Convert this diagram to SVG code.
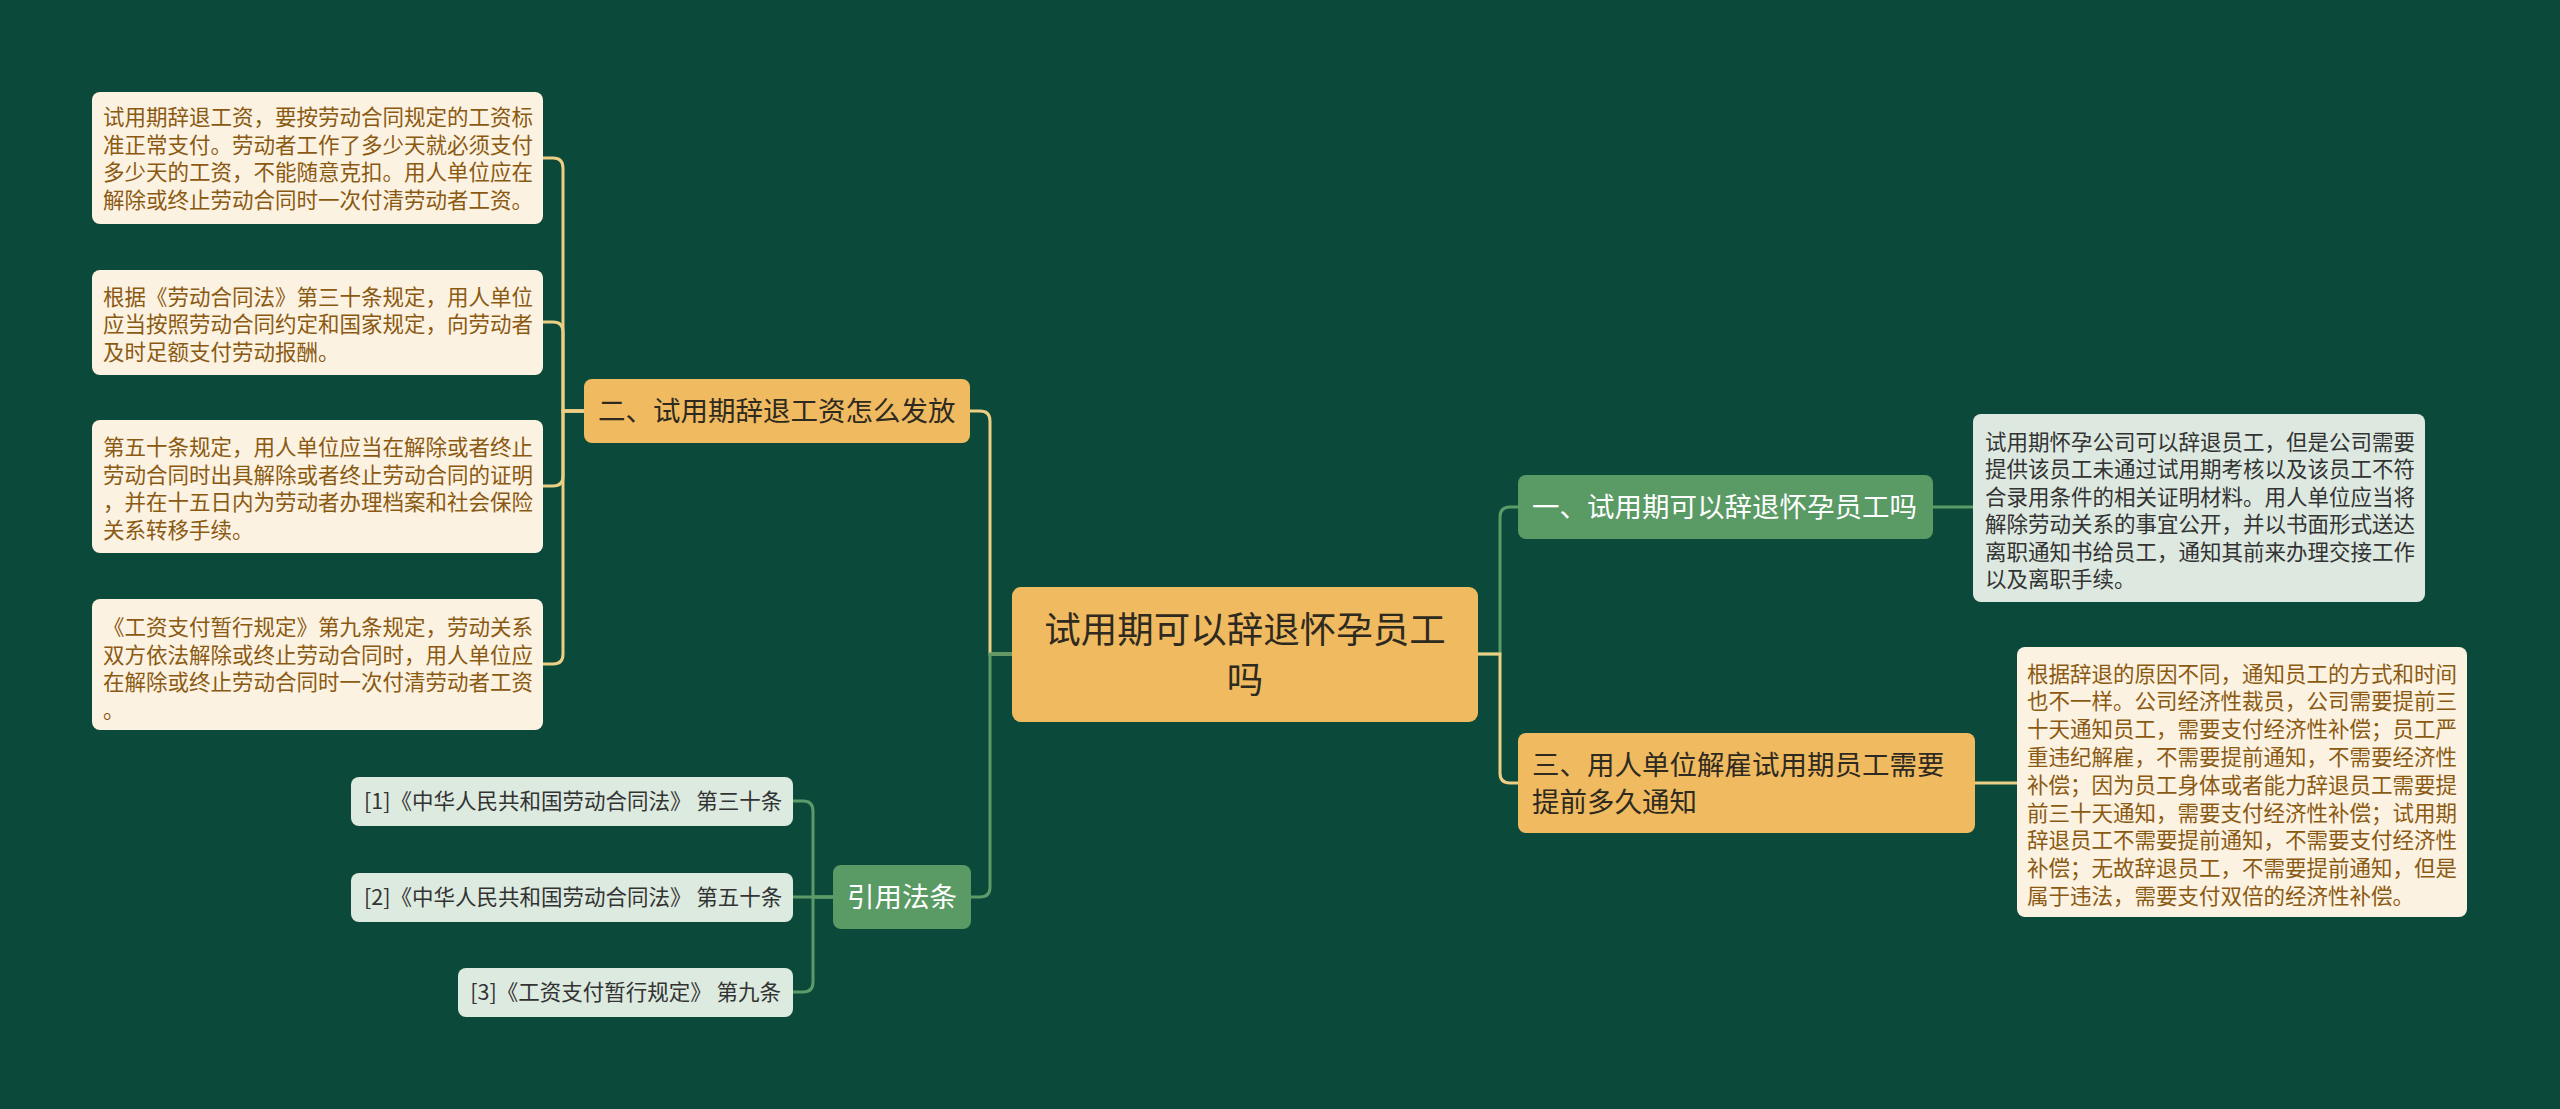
<svg xmlns="http://www.w3.org/2000/svg" width="2560" height="1109" viewBox="0 0 2560 1109">
<style>
.t{font-family:"Noto Sans CJK SC","Noto Sans",sans-serif}
.leaf{fill:#fcf2e2}
.leaft{font-size:21.5px;fill:#8b5a12}
.gleaf{fill:#dde9e0}
.gleaft{font-size:21.5px;fill:#333333}
.cite{fill:#ddeadf}
.citet{font-size:21.5px;fill:#333333}
.ynode{fill:#f0ba60}
.gnode{fill:#5a9a65}
.nt{font-size:27.5px;fill:#2e2a20}
.gnt{font-size:27.5px;fill:#ffffff}
.cy{fill:none;stroke:#eccf84;stroke-width:3}
.cg{fill:none;stroke:#5c9b67;stroke-width:3}
</style>
<rect x="0" y="0" width="2560" height="1109" fill="#0b4a3a"/>
<g id="connectors">
<path class="cy" d="M1012,654 H990 V421 Q990,411 980,411 H970"/>
<path class="cg" d="M1012,654 H990 V887 Q990,897 980,897 H971"/>
<path class="cg" d="M1478,654 H1500 V517 Q1500,507 1510,507 H1518"/>
<path class="cy" d="M1478,654 H1500 V773 Q1500,783 1510,783 H1518"/>
<path class="cy" d="M584,411 H563 V168 Q563,158 553,158 H543"/>
<path class="cy" d="M584,411 H563 V332 Q563,322 553,322 H543"/>
<path class="cy" d="M584,411 H563 V476 Q563,486 553,486 H543"/>
<path class="cy" d="M584,411 H563 V654 Q563,664 553,664 H543"/>
<path class="cg" d="M833,897 H813 V811 Q813,801 803,801 H793"/>
<path class="cg" d="M833,897 H793"/>
<path class="cg" d="M833,897 H813 V982 Q813,992 803,992 H793"/>
<path class="cg" d="M1933,507 H1973"/>
<path class="cy" d="M1975,783 H2017"/>
</g>
<g id="root">
<rect class="ynode" x="1012" y="587" width="466" height="135" rx="9"/>
<text class="t" x="1245" y="643" font-size="36.5" fill="#2e2a20" text-anchor="middle">试用期可以辞退怀孕员工</text>
<text class="t" x="1245" y="693" font-size="36.5" fill="#2e2a20" text-anchor="middle">吗</text>
</g>
<g id="n2">
<rect class="ynode" x="584" y="379" width="386" height="64" rx="8"/>
<text class="t nt" x="598" y="421">二、试用期辞退工资怎么发放</text>
</g>
<g id="leaf1">
<rect class="leaf" x="92" y="92" width="451" height="132" rx="8"/>
<text class="t leaft" x="103" y="125">试用期辞退工资，要按劳动合同规定的工资标</text>
<text class="t leaft" x="103" y="152.5">准正常支付。劳动者工作了多少天就必须支付</text>
<text class="t leaft" x="103" y="180">多少天的工资，不能随意克扣。用人单位应在</text>
<text class="t leaft" x="103" y="207.5">解除或终止劳动合同时一次付清劳动者工资。</text>
</g>
<g id="leaf2">
<rect class="leaf" x="92" y="270" width="451" height="105" rx="8"/>
<text class="t leaft" x="103" y="304.5">根据《劳动合同法》第三十条规定，用人单位</text>
<text class="t leaft" x="103" y="332">应当按照劳动合同约定和国家规定，向劳动者</text>
<text class="t leaft" x="103" y="359.5">及时足额支付劳动报酬。</text>
</g>
<g id="leaf3">
<rect class="leaf" x="92" y="420" width="451" height="133" rx="8"/>
<text class="t leaft" x="103" y="455">第五十条规定，用人单位应当在解除或者终止</text>
<text class="t leaft" x="103" y="482.5">劳动合同时出具解除或者终止劳动合同的证明</text>
<text class="t leaft" x="103" y="510">，并在十五日内为劳动者办理档案和社会保险</text>
<text class="t leaft" x="103" y="537.5">关系转移手续。</text>
</g>
<g id="leaf4">
<rect class="leaf" x="92" y="599" width="451" height="131" rx="8"/>
<text class="t leaft" x="103" y="635">《工资支付暂行规定》第九条规定，劳动关系</text>
<text class="t leaft" x="103" y="662.5">双方依法解除或终止劳动合同时，用人单位应</text>
<text class="t leaft" x="103" y="690">在解除或终止劳动合同时一次付清劳动者工资</text>
<text class="t leaft" x="103" y="717.5">。</text>
</g>
<g id="refs">
<rect class="gnode" x="833" y="865" width="138" height="64" rx="8"/>
<text class="t gnt" x="902" y="907" text-anchor="middle">引用法条</text>
</g>
<g id="cite1">
<rect class="cite" x="351" y="777" width="442" height="49" rx="8"/>
<text class="t citet" x="364" y="809">[1]《中华人民共和国劳动合同法》 第三十条</text>
</g>
<g id="cite2">
<rect class="cite" x="351" y="873" width="442" height="49" rx="8"/>
<text class="t citet" x="364" y="905">[2]《中华人民共和国劳动合同法》 第五十条</text>
</g>
<g id="cite3">
<rect class="cite" x="458" y="968" width="335" height="49" rx="8"/>
<text class="t citet" x="781" y="1000" text-anchor="end">[3]《工资支付暂行规定》 第九条</text>
</g>
<g id="n1">
<rect class="gnode" x="1518" y="475" width="415" height="64" rx="8"/>
<text class="t gnt" x="1532" y="517">一、试用期可以辞退怀孕员工吗</text>
</g>
<g id="leaf5">
<rect class="gleaf" x="1973" y="414" width="452" height="188" rx="8"/>
<text class="t gleaft" x="1985" y="449.5">试用期怀孕公司可以辞退员工，但是公司需要</text>
<text class="t gleaft" x="1985" y="477">提供该员工未通过试用期考核以及该员工不符</text>
<text class="t gleaft" x="1985" y="504.5">合录用条件的相关证明材料。用人单位应当将</text>
<text class="t gleaft" x="1985" y="532">解除劳动关系的事宜公开，并以书面形式送达</text>
<text class="t gleaft" x="1985" y="559.5">离职通知书给员工，通知其前来办理交接工作</text>
<text class="t gleaft" x="1985" y="587">以及离职手续。</text>
</g>
<g id="n3">
<rect class="ynode" x="1518" y="733" width="457" height="100" rx="8"/>
<text class="t nt" x="1532" y="775">三、用人单位解雇试用期员工需要</text>
<text class="t nt" x="1532" y="812">提前多久通知</text>
</g>
<g id="leaf6">
<rect class="leaf" x="2017" y="647" width="450" height="270" rx="8"/>
<text class="t leaft" x="2027" y="681.5">根据辞退的原因不同，通知员工的方式和时间</text>
<text class="t leaft" x="2027" y="709.3">也不一样。公司经济性裁员，公司需要提前三</text>
<text class="t leaft" x="2027" y="737.1">十天通知员工，需要支付经济性补偿；员工严</text>
<text class="t leaft" x="2027" y="764.9">重违纪解雇，不需要提前通知，不需要经济性</text>
<text class="t leaft" x="2027" y="792.7">补偿；因为员工身体或者能力辞退员工需要提</text>
<text class="t leaft" x="2027" y="820.5">前三十天通知，需要支付经济性补偿；试用期</text>
<text class="t leaft" x="2027" y="848.3">辞退员工不需要提前通知，不需要支付经济性</text>
<text class="t leaft" x="2027" y="876.1">补偿；无故辞退员工，不需要提前通知，但是</text>
<text class="t leaft" x="2027" y="903.9">属于违法，需要支付双倍的经济性补偿。</text>
</g>
</svg>
